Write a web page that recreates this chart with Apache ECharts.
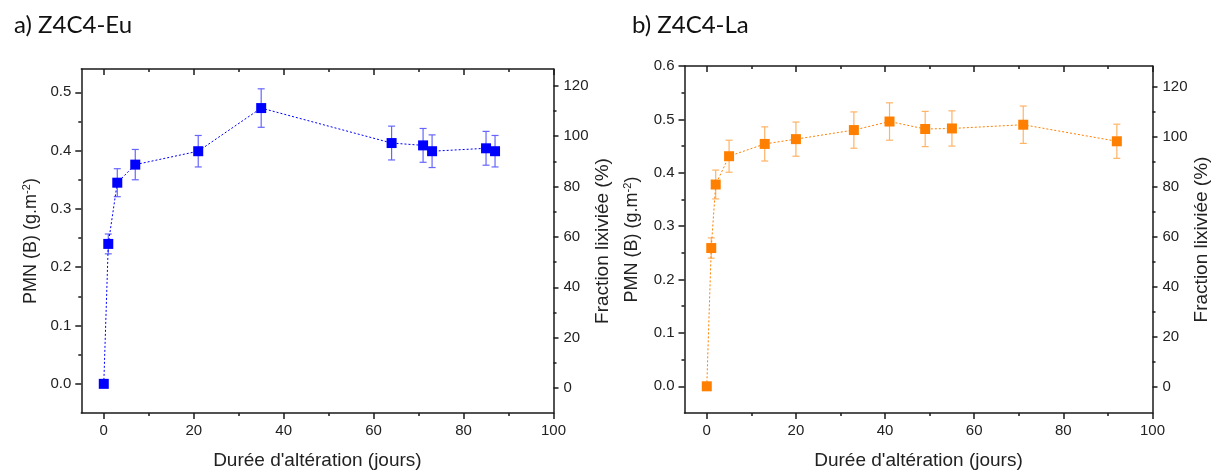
<!DOCTYPE html>
<html>
<head>
<meta charset="utf-8">
<script src="https://cdn.jsdelivr.net/npm/echarts@6/dist/echarts.min.js"></script>
<style>
html,body{margin:0;padding:0;background:#fff;}
#c{width:1220px;height:475px;}
</style>
</head>
<body>
<div id="c"></div>
<script>
// ---- data ----
const euDays = [0, 1, 3, 7, 21, 35, 64, 71, 73, 85, 87];
const euPMN  = [0, 0.240, 0.345, 0.376, 0.399, 0.473, 0.413, 0.409, 0.399, 0.404, 0.399];
const euErr  = [0, 0.017, 0.024, 0.026, 0.027, 0.033, 0.029, 0.029, 0.028, 0.029, 0.027];

const laDays = [0, 1, 2, 5, 13, 20, 33, 41, 49, 55, 71, 92];
const laPMN  = [0, 0.259, 0.378, 0.431, 0.454, 0.463, 0.480, 0.496, 0.482, 0.483, 0.490, 0.459];
const laErr  = [0, 0.019, 0.027, 0.030, 0.032, 0.032, 0.034, 0.035, 0.033, 0.033, 0.035, 0.032];

const xMajorTicks = [0, 20, 40, 60, 80, 100];
const xMinorTicks = [10, 30, 50, 70, 90];
const yMajorTicksEu = [0, 0.1, 0.2, 0.3, 0.4, 0.5];
const yMinorTicksEu = [0.05, 0.15, 0.25, 0.35, 0.45];
const yMajorTicksLa = [0, 0.1, 0.2, 0.3, 0.4, 0.5, 0.6];
const yMinorTicksLa = [0.05, 0.15, 0.25, 0.35, 0.45, 0.55];
const pctMajorTicks = [0, 20, 40, 60, 80, 100, 120];
const pctMinorTicks = [10, 30, 50, 70, 90, 110];

const titles = ['a) Z4C4-Eu', 'b) Z4C4-La'];
const xName = "Durée d'altération (jours)";
const pctName = 'Fraction lixiviée (%)';

// ---- styling ----
const FONT = '"Liberation Sans", Arial, sans-serif';
const AX = '#1a1a1a';
const TXT = '#222';

const panels = [
  {grid:{left:81.3, top:69, width:472.2, height:346}, yMin:-0.05, yMax:0.54, pMin:-9.9, pMax:126.7,
   yMaj:yMajorTicksEu, yMin2:yMinorTicksEu, days:euDays, vals:euPMN, errs:euErr,
   color:'#0000ff', errColor:'#6666ff', yGap:40, pGap:40},
  {grid:{left:684.5, top:66, width:468, height:350}, yMin:-0.05, yMax:0.6, pMin:-10.3, pMax:128.4,
   yMaj:yMajorTicksLa, yMin2:yMinorTicksLa, days:laDays, vals:laPMN, errs:laErr,
   color:'#ff8000', errColor:'#ffb366', yGap:42, pGap:40}
];

const grids = [], xAxes = [], yAxes = [], series = [];

panels.forEach((p, gi) => {
  grids.push(Object.assign({containLabel:false}, p.grid));
  const xb = xAxes.length;
  const lineOn = {show:true, onZero:false, lineStyle:{color:AX, width:1.5}};
  const lineOff = {show:false, onZero:false};
  const xCommon = {gridIndex:gi, type:'value', min:-5, max:100, splitLine:{show:false}};
  xAxes.push(Object.assign({}, xCommon, {
    position:'bottom', axisLine:lineOn,
    axisTick:{show:true, inside:false, length:6, customValues:xMajorTicks, lineStyle:{color:AX, width:1.5}},
    axisLabel:{show:true, customValues:xMajorTicks, fontSize:15, margin:10, color:TXT, fontFamily:FONT},
    name:xName, nameLocation:'middle', nameGap:38,
    nameTextStyle:{fontSize:19, color:TXT, fontFamily:FONT}
  }));
  xAxes.push(Object.assign({}, xCommon, {
    position:'bottom', axisLine:lineOff,
    axisTick:{show:true, inside:false, length:3, customValues:xMinorTicks, lineStyle:{color:AX, width:1.5}},
    axisLabel:{show:false}
  }));
  xAxes.push(Object.assign({}, xCommon, {
    position:'top', axisLine:lineOn,
    axisTick:{show:true, inside:true, length:6, customValues:xMajorTicks, lineStyle:{color:AX, width:1.5}},
    axisLabel:{show:false}
  }));
  xAxes.push(Object.assign({}, xCommon, {
    position:'top', axisLine:lineOff,
    axisTick:{show:true, inside:true, length:3, customValues:xMinorTicks, lineStyle:{color:AX, width:1.5}},
    axisLabel:{show:false}
  }));

  const yb = yAxes.length;
  const yCommon = {gridIndex:gi, type:'value', min:p.yMin, max:p.yMax, splitLine:{show:false}};
  yAxes.push(Object.assign({}, yCommon, {
    position:'left', axisLine:lineOn,
    axisTick:{show:true, inside:false, length:6, customValues:p.yMaj, lineStyle:{color:AX, width:1.5}},
    axisLabel:{show:true, customValues:p.yMaj, fontSize:15, margin:10, color:TXT, fontFamily:FONT,
               formatter:(v)=>v.toFixed(1)},
    name:'PMN (B) (g.m{sup|-2})', nameLocation:'middle', nameGap:p.yGap, nameRotate:90,
    nameTextStyle:{fontSize:18, color:TXT, fontFamily:FONT,
      rich:{sup:{fontSize:11, color:TXT, fontFamily:FONT, verticalAlign:'top', padding:[0,0,9,0]}}}
  }));
  yAxes.push(Object.assign({}, yCommon, {
    position:'left', axisLine:lineOff,
    axisTick:{show:true, inside:false, length:3, customValues:p.yMin2, lineStyle:{color:AX, width:1.5}},
    axisLabel:{show:false}
  }));
  const pCommon = {gridIndex:gi, type:'value', min:p.pMin, max:p.pMax, splitLine:{show:false}};
  yAxes.push(Object.assign({}, pCommon, {
    position:'right', axisLine:lineOn,
    axisTick:{show:true, inside:false, length:5, customValues:pctMajorTicks, lineStyle:{color:AX, width:1.5}},
    axisLabel:{show:true, customValues:pctMajorTicks, fontSize:15, margin:10, color:TXT, fontFamily:FONT},
    name:pctName, nameLocation:'middle', nameGap:p.pGap, nameRotate:90,
    nameTextStyle:{fontSize:19, color:TXT, fontFamily:FONT}
  }));
  yAxes.push(Object.assign({}, pCommon, {
    position:'right', axisLine:lineOff,
    axisTick:{show:true, inside:false, length:3, customValues:pctMinorTicks, lineStyle:{color:AX, width:1.5}},
    axisLabel:{show:false}
  }));

  const errData = [];
  p.days.forEach((d, i) => {
    if (p.errs[i] > 0) errData.push([d, p.vals[i] - p.errs[i], p.vals[i] + p.errs[i]]);
  });
  series.push({
    type:'custom', xAxisIndex:xb, yAxisIndex:yb, z:2, silent:true,
    data:errData,
    renderItem:(params, api) => {
      const x = api.value(0);
      const top = api.coord([x, api.value(2)]);
      const bot = api.coord([x, api.value(1)]);
      const w = 3.5;
      const st = {stroke:p.errColor, lineWidth:1.2};
      return {type:'group', children:[
        {type:'line', shape:{x1:top[0], y1:top[1], x2:bot[0], y2:bot[1]}, style:st},
        {type:'line', shape:{x1:top[0]-w, y1:top[1], x2:top[0]+w, y2:top[1]}, style:st},
        {type:'line', shape:{x1:bot[0]-w, y1:bot[1], x2:bot[0]+w, y2:bot[1]}, style:st}
      ]};
    }
  });
  series.push({
    type:'line', xAxisIndex:xb, yAxisIndex:yb, z:3,
    data:p.days.map((d, i) => [d, p.vals[i]]),
    symbol:'rect', symbolSize:10, showAllSymbol:true,
    itemStyle:{color:p.color},
    lineStyle:{color:p.color, width:1, type:[2,2]},
    animation:false
  });
});

const chart = echarts.init(document.getElementById('c'), null, {renderer:'canvas'});
chart.setOption({
  animation:false,
  backgroundColor:'#fff',
  textStyle:{fontFamily:FONT},
  title:[
    {text:titles[0], left:9, top:8, textStyle:{fontSize:24, fontWeight:'normal', color:'#111', fontFamily:'Lato, "Open Sans", sans-serif'}},
    {text:titles[1], left:627, top:8, textStyle:{fontSize:24, fontWeight:'normal', color:'#111', fontFamily:'Lato, "Open Sans", sans-serif'}}
  ],
  grid:grids, xAxis:xAxes, yAxis:yAxes, series:series
});
</script>
</body>
</html>
